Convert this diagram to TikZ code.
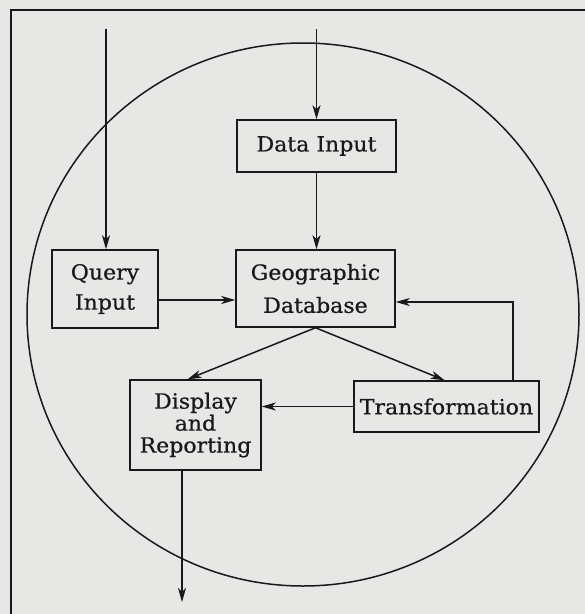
\documentclass[tikz,border=0pt]{standalone}
\usepackage{fontspec}
\setmainfont{DejaVu Serif}[FakeStretch=1.05,FakeBold=0.6]
\usetikzlibrary{arrows.meta,calc}
\definecolor{paper}{RGB}{231,231,229}
\definecolor{ink}{RGB}{25,25,25}
\tikzset{
  box/.style={draw=ink, line width=1.5pt, inner sep=0pt, align=center, text=ink},
  arr/.style={draw=ink, line width=1.5pt, -{Stealth[length=14pt,width=8pt,inset=4pt]}},
}
\begin{document}
\begin{tikzpicture}[x=1pt,y=-1pt]
\useasboundingbox (0,0) rectangle (585,614);
\fill[paper] (0,0) rectangle (585,614);
% frame
\draw[ink, line width=2.4pt] (11,614) -- (11,10) -- (585,10);
% circle
\draw[ink, line width=1.5pt] (303,314.5) ellipse [x radius=276pt, y radius=271.5pt];
% boxes
\node[box, minimum width=159pt, minimum height=52pt, font=\fontsize{21}{30}\selectfont] (data) at (316.5,146) {Data Input};
\node[box, minimum width=106pt, minimum height=78pt, font=\fontsize{21}{30}\selectfont] (query) at (105,289) {Query\\Input};
\node[box, minimum width=159pt, minimum height=77pt, font=\fontsize{21}{33}\selectfont] (geo) at (315.5,288.5) {Geographic\\Database};
\node[box, minimum width=131pt, minimum height=90pt, font=\fontsize{21}{22}\selectfont] (disp) at (195.5,425) {Display\\and\\Reporting};
\node[box, minimum width=185pt, minimum height=51pt, font=\fontsize{21}{30}\selectfont] (trans) at (446.5,406.5) {Transformation};
% free ends
\coordinate (topq) at (106,29);
\coordinate (topd) at (316.5,29);
\coordinate (outd) at (182,602);
% connectors
\draw[arr] (topq) -- (topq |- query.north);
\draw[arr] (topd) -- (data.north);
\draw[arr] (data.south) -- (data.south |- geo.north);
\draw[arr] (query.east |- 0,300) -- (geo.west |- 0,300);
\draw[arr] (geo.south) -- ($(disp.north west)!0.44!(disp.north east)$);
\draw[arr] (geo.south) -- ($(trans.north west)!0.49!(trans.north east)$);
\draw[arr] (trans.north -| 513,0) |- (geo.east |- 0,302);
\draw[arr] (trans.west) -- (disp.east |- trans.west);
\draw[arr] (disp.south -| outd) -- (outd);
\end{tikzpicture}
\end{document}
